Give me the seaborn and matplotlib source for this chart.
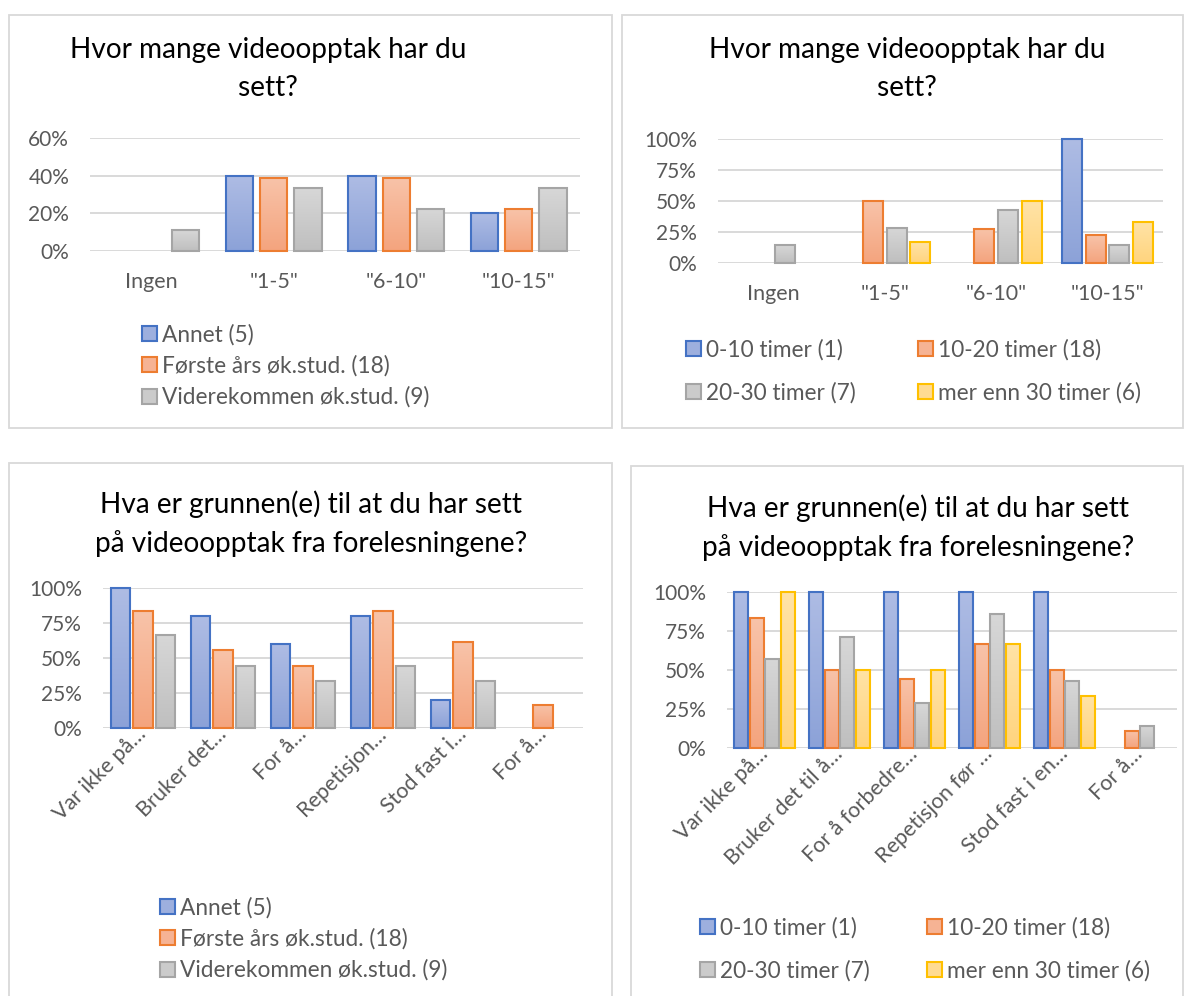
import numpy as np
import pandas as pd
import matplotlib
matplotlib.use("Agg")
import matplotlib.pyplot as plt
import seaborn as sns
from matplotlib.patches import Rectangle
from matplotlib.colors import to_rgb
from matplotlib.ticker import PercentFormatter

# ---------------- data ----------------
count_cats = ['Ingen', '"1-5"', '"6-10"', '"10-15"']
study_groups = ['Annet (5)', 'Første års øk.stud. (18)', 'Viderekommen øk.stud. (9)']
hour_groups = ['0-10 timer (1)', '10-20 timer (18)', '20-30 timer (7)', 'mer enn 30 timer (6)']

# Chart 1: count of videos by study group
cnt_annet = [0.0, 0.40, 0.40, 0.20]
cnt_forste = [0.0, 0.389, 0.389, 0.222]
cnt_videre = [0.111, 0.333, 0.222, 0.333]

# Chart 2: count of videos by hours
cnt_h0_10 = [0.0, 0.0, 0.0, 1.0]
cnt_h10_20 = [0.0, 0.50, 0.278, 0.222]
cnt_h20_30 = [0.143, 0.286, 0.429, 0.143]
cnt_h30 = [0.0, 0.167, 0.50, 0.333]

# Chart 3: reasons by study group
reason_labels_short = ['Var ikke på…', 'Bruker det…', 'For å…', 'Repetisjon…', 'Stod fast i…', 'For å…']
rsn_annet = [1.0, 0.80, 0.60, 0.80, 0.20, 0.0]
rsn_forste = [0.833, 0.556, 0.444, 0.833, 0.611, 0.167]
rsn_videre = [0.667, 0.444, 0.333, 0.444, 0.333, 0.0]

# Chart 4: reasons by hours
reason_labels_long = ['Var ikke på…', 'Bruker det til å…', 'For å forbedre…', 'Repetisjon før …', 'Stod fast i en…', 'For å…']
rsn_h0_10 = [1.0, 1.0, 1.0, 1.0, 1.0, 0.0]
rsn_h10_20 = [0.833, 0.50, 0.444, 0.667, 0.50, 0.111]
rsn_h20_30 = [0.571, 0.714, 0.286, 0.857, 0.429, 0.143]
rsn_h30 = [1.0, 0.50, 0.50, 0.667, 0.333, 0.0]

title_count = "Hvor mange videoopptak har du\nsett?"
title_reason = "Hva er grunnen(e) til at du har sett\npå videoopptak fra forelesningene?"

# ---------------- style ----------------
sns.set_theme(style="white")
plt.rcParams['font.family'] = ['Lato', 'DejaVu Sans']

EDGE = ['#4472C4', '#ED7D31', '#A5A5A5', '#FFC000']
TOP = ['#AEBCE4', '#F8C3A9', '#D7D7D7', '#FFE3A6']
BOT = ['#8CA2D8', '#F4A47E', '#BFBFBF', '#FFD47E']
MID = ['#9DAFDE', '#F6B394', '#CBCBCB', '#FFDB92']
TICKC = '#595959'
GRIDC = '#D9D9D9'
TITLE_FS = 20.2
LEG_FS = 16.3

W, H = 1185, 996
fig = plt.figure(figsize=(W / 100, H / 100), dpi=100)


def axes_px(x0, y0, x1, y1):
    return fig.add_axes([x0 / W, 1 - y1 / H, (x1 - x0) / W, (y1 - y0) / H])


def panel(x0, y0, x1, y1):
    fig.patches.append(Rectangle((x0 / W, 1 - y1 / H), (x1 - x0) / W, (y1 - y0) / H,
                                 transform=fig.transFigure, fill=False,
                                 edgecolor=GRIDC, lw=1.3, zorder=0))


def draw(ax, cats_n, groups, series, width, gap, ylim, yticks, xlabels, rot):
    rows = []
    for g, vals in zip(groups, series):
        for i, v in enumerate(vals):
            rows.append({'cat': i, 'grp': g, 'val': v})
    df = pd.DataFrame(rows)
    pal = EDGE[:len(groups)]
    sns.barplot(data=df, x='cat', y='val', hue='grp', order=list(range(cats_n)),
                hue_order=groups, palette=pal, width=width, gap=gap,
                saturation=1, legend=False, ax=ax, errorbar=None)
    # gradient fill per bar
    for gi, cont in enumerate(ax.containers):
        for p in cont.patches:
            h = p.get_height()
            if h <= 0:
                p.set_visible(False)
                continue
            x, y, w = p.get_x(), p.get_y(), p.get_width()
            c0, c1 = np.array(to_rgb(BOT[gi])), np.array(to_rgb(TOP[gi]))
            grad = np.linspace(0, 1, 64)[:, None, None]
            img = c0 + (c1 - c0) * grad
            ax.imshow(img, extent=[x, x + w, y, y + h], origin='lower',
                      aspect='auto', zorder=2, interpolation='bilinear')
            p.set_facecolor('none')
            p.set_edgecolor(EDGE[gi])
            p.set_linewidth(1.5)
            p.set_zorder(3)
            p.set_clip_on(False)
    ax.set_xlim(-0.5, cats_n - 0.5)
    ax.set_ylim(*ylim)
    ax.set_yticks(yticks)
    ax.yaxis.set_major_formatter(PercentFormatter(1.0, decimals=0))
    ax.set_xticks(range(cats_n))
    ax.set_xlabel('')
    ax.set_ylabel('')
    for s in ax.spines.values():
        s.set_visible(False)
    ax.yaxis.grid(True, color=GRIDC, lw=1.4)
    ax.set_axisbelow(True)
    ax.tick_params(axis='y', length=0, pad=15, labelsize=15, labelcolor=TICKC)
    if rot:
        ax.tick_params(axis='x', length=0, pad=2, labelsize=15.5, labelcolor=TICKC)
        ax.set_xticklabels(xlabels, rotation=45, ha='right', va='center',
                           rotation_mode='anchor')
    else:
        ax.tick_params(axis='x', length=0, pad=15, labelsize=15.5, labelcolor=TICKC)
        ax.set_xticklabels(xlabels)
    ax.patch.set_alpha(0)


def legend_col(entries, x, y, spacing):
    handles = [Rectangle((0, 0), 1, 1, facecolor=MID[i], edgecolor=EDGE[i], lw=1.5)
               for i, _ in entries]
    labels = [lab for _, lab in entries]
    leg = fig.legend(handles, labels, loc='upper left',
                     bbox_to_anchor=(x / W, 1 - y / H), frameon=False,
                     borderpad=0, borderaxespad=0, handlelength=0.65,
                     handleheight=0.65, handletextpad=0.22,
                     labelspacing=spacing, fontsize=LEG_FS)
    for t in leg.get_texts():
        t.set_color(TICKC)
    return leg


# panels
panel(9, 15, 612, 428)
panel(622, 15, 1183, 428)
panel(9, 463, 612, 1010)
panel(631, 466, 1183, 1010)

# Chart 1
ax1 = axes_px(90, 138, 580, 251)
draw(ax1, 4, study_groups, [cnt_annet, cnt_forste, cnt_videre], 0.84, 0.2,
     (0, 0.6), [0, 0.2, 0.4, 0.6], count_cats, False)
fig.text(268 / W, 1 - 69 / H, title_count, ha='center', va='center',
         fontsize=TITLE_FS, color='black', linespacing=1.55)
legend_col([(0, study_groups[0]), (1, study_groups[1]), (2, study_groups[2])], 142, 324, 0.43)

# Chart 2
ax2 = axes_px(718, 139, 1163, 263)
draw(ax2, 4, hour_groups, [cnt_h0_10, cnt_h10_20, cnt_h20_30, cnt_h30], 0.85, 0.15,
     (0, 1), [0, 0.25, 0.5, 0.75, 1.0], count_cats, False)
fig.text(907 / W, 1 - 69 / H, title_count, ha='center', va='center',
         fontsize=TITLE_FS, color='black', linespacing=1.55)
legend_col([(0, hour_groups[0]), (2, hour_groups[2])], 686, 339, 0.96)
legend_col([(1, hour_groups[1]), (3, hour_groups[3])], 918, 339, 0.96)

# Chart 3
ax3 = axes_px(103, 588, 583, 728)
draw(ax3, 6, study_groups, [rsn_annet, rsn_forste, rsn_videre], 0.85, 0.16,
     (0, 1), [0, 0.25, 0.5, 0.75, 1.0], reason_labels_short, True)
fig.text(311 / W, 1 - 524 / H, title_reason, ha='center', va='center',
         fontsize=TITLE_FS, color='black', linespacing=1.55)
legend_col([(0, study_groups[0]), (1, study_groups[1]), (2, study_groups[2])], 160, 897, 0.43)

# Chart 4
ax4 = axes_px(727, 592, 1177, 748)
draw(ax4, 6, hour_groups, [rsn_h0_10, rsn_h10_20, rsn_h20_30, rsn_h30], 0.85, 0.12,
     (0, 1), [0, 0.25, 0.5, 0.75, 1.0], reason_labels_long, True)
fig.text(918 / W, 1 - 528 / H, title_reason, ha='center', va='center',
         fontsize=TITLE_FS, color='black', linespacing=1.55)
legend_col([(0, hour_groups[0]), (2, hour_groups[2])], 700, 917, 0.96)
legend_col([(1, hour_groups[1]), (3, hour_groups[3])], 927, 917, 0.96)

fig.savefig("out.png", dpi=100)
